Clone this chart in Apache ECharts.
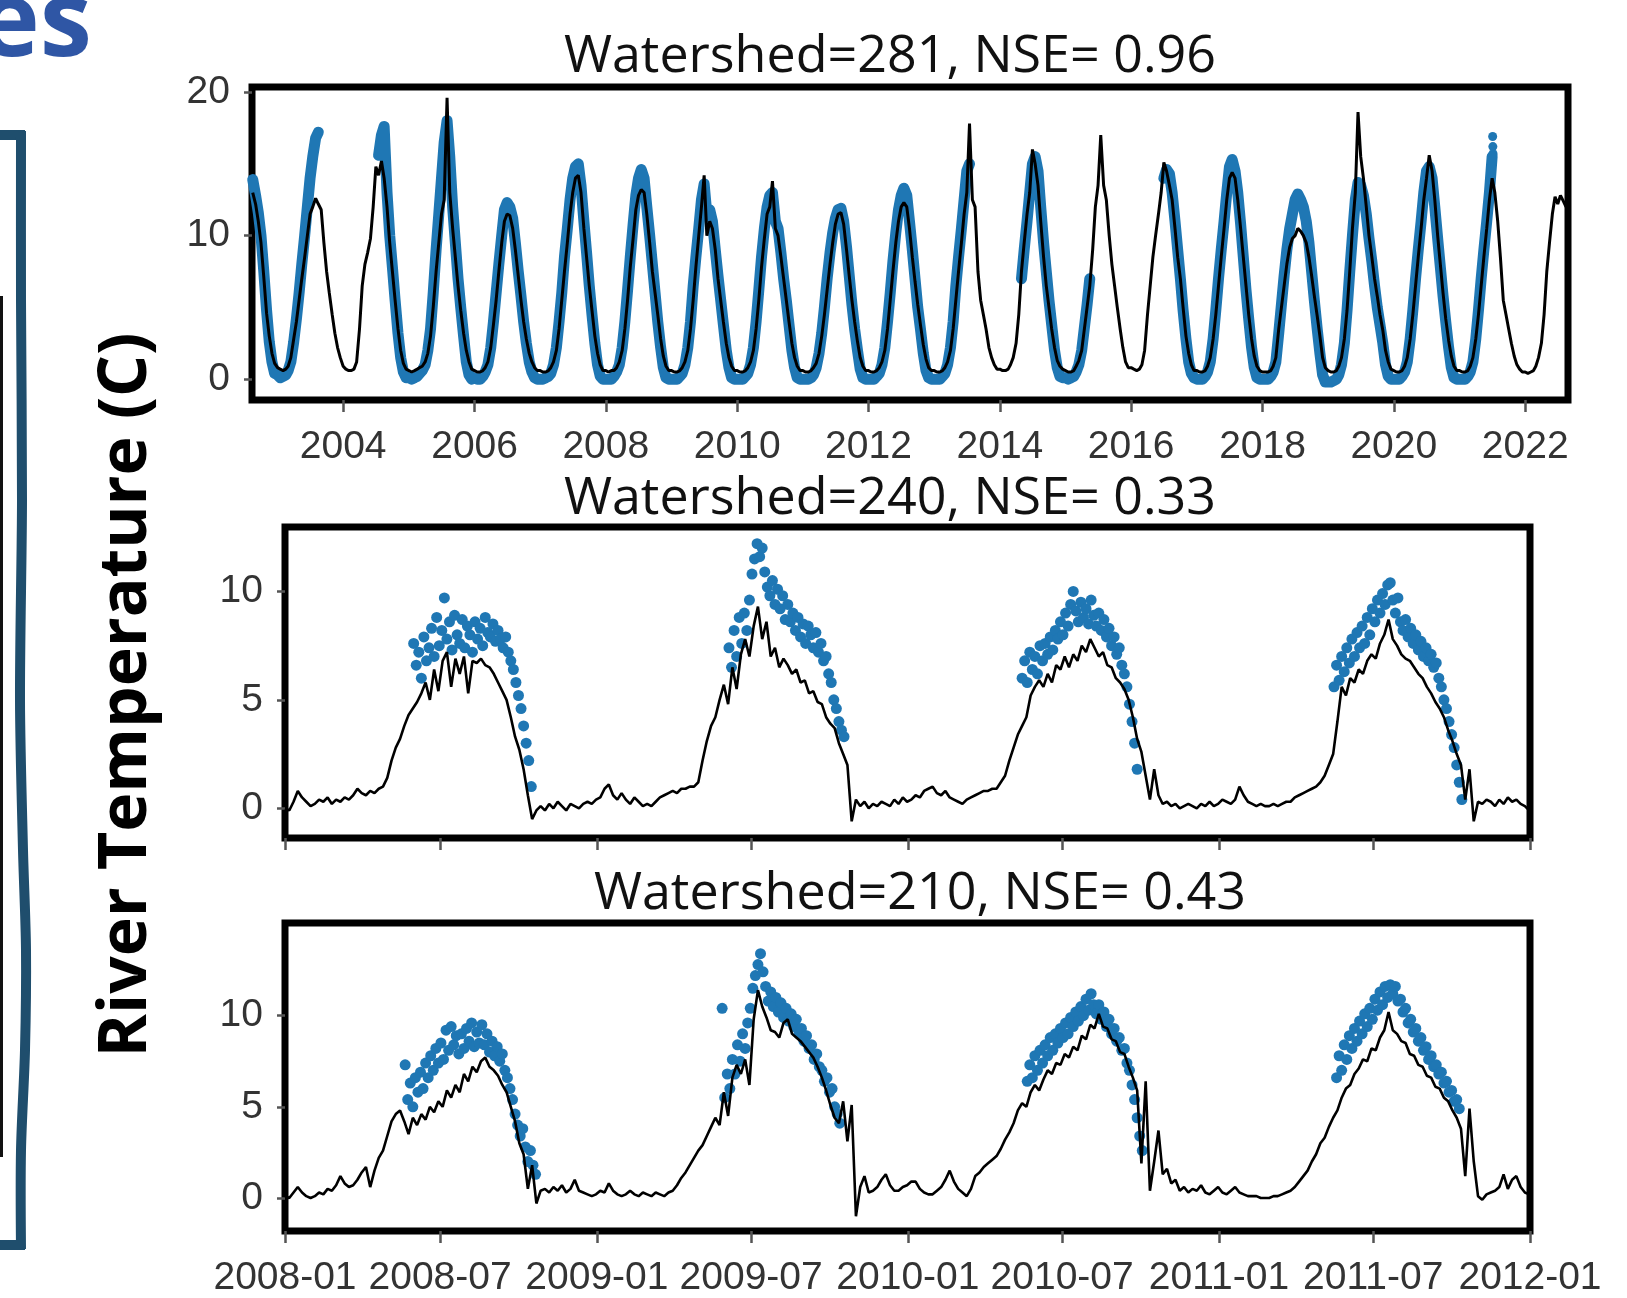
<!DOCTYPE html>
<html>
<head>
<meta charset="utf-8">
<title>River Temperature</title>
<script src="https://cdn.jsdelivr.net/npm/echarts@6/dist/echarts.min.js"></script>
<style>
    html, body { margin: 0; padding: 0; background: #fff; }
    #river_chart { width: 1627px; height: 1298px; }
</style>
</head>
<body>
<div id="river_chart"></div>
<script>
    // Watershed 281: values on the 1st and 16th of each month, 2002-08-16 .. 2022-08-16
    var sim281 = [
        13.0,12.2,11.0,9.5,7.2,4.6,3.0,1.8,1.1,
        0.8,0.7,0.6,0.7,0.9,1.5,2.8,4.0,5.5,7.0,8.5,10.0,11.5,12.0,12.6,12.2,11.8,9.5,7.5,6.0,4.5,3.2,2.2,1.5,
        0.9,0.7,0.6,0.6,0.7,1.2,3.5,6.5,8.0,8.8,9.8,12.0,14.8,14.2,15.2,14.0,12.0,9.5,7.5,5.5,3.5,2.0,1.1,0.7,
        0.6,0.5,0.6,0.7,0.8,0.9,1.2,1.8,3.0,5.0,7.5,9.5,11.5,12.5,19.6,13.0,10.5,8.5,6.5,4.8,3.2,2.0,1.2,0.7,
        0.6,0.5,0.5,0.6,0.8,1.2,2.2,3.8,5.5,7.5,9.5,11.0,11.5,11.4,10.5,9.0,7.2,5.5,4.0,2.8,1.8,1.2,0.8,0.6,
        0.6,0.5,0.5,0.6,0.8,1.2,2.0,3.5,5.5,7.5,9.5,11.5,13.0,14.0,14.2,13.0,10.5,8.5,6.5,4.8,3.0,1.8,1.0,0.6,
        0.6,0.5,0.6,0.6,0.8,1.2,2.0,3.5,5.5,7.8,9.8,11.8,12.8,13.2,13.0,11.5,9.5,7.5,6.0,4.5,2.8,1.6,0.9,0.6,
        0.6,0.5,0.5,0.6,0.8,1.2,2.0,3.5,5.5,7.8,10.0,12.0,14.2,10.0,11.0,10.5,9.0,7.0,5.5,4.0,2.5,1.5,0.9,0.6,
        0.6,0.5,0.5,0.6,0.8,1.2,2.0,3.5,5.5,7.8,9.8,11.5,12.0,13.8,10.5,10.0,8.5,7.0,5.5,4.0,2.5,1.5,0.9,0.6,
        0.6,0.5,0.5,0.6,0.8,1.1,1.8,3.0,4.5,6.2,8.0,9.5,10.8,11.5,11.6,10.8,9.0,7.2,5.5,4.0,2.6,1.5,0.9,0.6,
        0.6,0.5,0.5,0.6,0.8,1.2,2.0,3.5,5.5,7.5,9.5,11.0,12.0,12.3,12.0,10.5,8.5,6.8,5.2,3.8,2.4,1.4,0.8,0.6,
        0.6,0.5,0.5,0.6,0.8,1.2,2.0,3.5,5.5,7.5,9.5,11.5,13.0,17.8,12.5,12.0,7.5,5.5,4.5,3.5,2.2,1.5,1.0,0.7,
        0.7,0.6,0.6,0.7,1.0,1.5,2.5,4.5,7.5,9.5,11.5,13.0,16.0,15.0,13.5,11.0,8.5,6.5,5.0,3.5,2.2,1.3,0.9,0.7,
        0.6,0.5,0.5,0.6,0.9,1.3,2.0,3.5,5.0,6.5,9.0,12.0,13.5,17.0,13.5,12.5,10.0,8.0,6.5,5.0,3.5,2.2,1.2,0.8,
        0.8,0.7,0.6,0.7,1.0,2.0,4.5,6.5,8.5,10.0,11.5,13.0,15.1,14.5,13.5,12.5,10.5,8.5,7.0,5.0,3.0,1.8,1.0,0.6,
        0.6,0.5,0.5,0.6,0.9,1.5,2.8,4.5,6.5,8.5,10.5,12.5,14.0,14.4,14.0,12.5,10.5,8.5,6.5,4.5,2.8,1.6,0.9,0.6,
        0.5,0.5,0.5,0.6,0.9,1.5,3.5,5.0,6.5,8.0,9.2,9.8,10.0,10.5,10.3,10.0,9.5,8.5,7.2,5.8,4.4,3.0,1.5,0.8,
        0.6,0.5,0.5,0.6,0.9,1.5,2.8,4.8,7.5,10.5,13.0,18.6,15.5,14.0,12.0,10.0,8.5,7.0,5.8,4.5,3.4,2.0,1.2,0.7,
        0.6,0.5,0.5,0.6,0.9,1.5,2.8,4.5,6.5,8.5,10.5,12.5,14.0,15.6,14.5,12.5,10.0,8.0,6.0,4.2,2.7,1.6,0.9,0.6,
        0.6,0.5,0.5,0.6,0.9,1.5,2.8,4.5,6.5,8.5,10.5,12.5,14.0,13.0,11.0,8.5,5.5,4.5,3.5,2.5,1.6,1.0,0.7,0.5,
        0.5,0.4,0.5,0.6,0.9,1.5,2.5,4.5,7.5,9.5,11.5,12.7,12.2,12.8,12.4,12.0
    ];
    var obs281 = [
        13.9,12.8,11.6,10.0,7.6,4.8,2.6,1.2,0.4,
        0.3,0.1,0.2,0.3,0.6,1.2,2.6,4.2,6.0,8.0,10.0,12.0,14.0,15.5,16.8,17.2,null,null,null,null,null,null,null,null,
        null,null,null,null,null,null,null,null,null,null,null,null,null,15.6,17.0,17.6,13.0,10.0,7.8,5.5,3.2,1.5,0.5,0.1,
        0.1,0.0,0.1,0.2,0.4,0.6,1.0,2.0,3.5,6.0,9.0,11.5,14.0,16.5,18.0,15.5,12.0,9.5,7.0,5.0,3.0,1.2,0.3,0.0,
        0.1,0.0,0.0,0.2,0.5,1.0,2.2,4.0,6.0,8.0,10.0,11.8,12.3,12.0,11.2,9.5,7.5,5.8,4.0,2.5,1.2,0.5,0.1,0.0,
        0.0,0.0,0.1,0.2,0.4,1.0,2.2,4.0,6.0,8.5,10.5,12.5,14.0,14.8,15.0,13.5,11.0,8.8,6.5,4.5,2.5,1.0,0.2,0.0,
        0.0,0.0,0.0,0.2,0.5,1.0,2.2,4.0,6.2,8.5,10.8,12.8,14.0,14.6,14.0,12.0,10.0,8.0,6.0,4.0,2.2,0.8,0.1,0.0,
        0.0,0.0,0.0,0.2,0.4,1.0,2.2,4.0,6.5,8.5,10.5,12.5,13.6,11.5,11.8,11.0,9.0,7.2,5.5,3.8,2.0,0.8,0.1,0.0,
        0.0,0.0,0.0,0.2,0.4,1.0,2.2,4.0,6.2,8.5,10.5,12.0,12.8,13.0,11.0,10.5,8.8,7.0,5.5,3.8,2.0,0.8,0.1,0.0,
        0.0,0.0,0.0,0.1,0.3,0.8,1.8,3.2,5.0,7.0,8.8,10.2,11.2,11.8,11.9,11.0,9.2,7.2,5.2,3.5,2.0,0.7,0.1,0.0,
        0.0,0.0,0.0,0.2,0.4,1.0,2.2,4.0,6.0,8.2,10.2,11.8,12.8,13.3,12.8,11.0,9.0,7.0,5.0,3.5,1.8,0.6,0.1,0.0,
        0.0,0.0,0.0,0.2,0.4,1.0,2.2,4.0,6.5,8.5,10.5,12.5,14.5,15.0,null,null,null,null,null,null,null,null,null,null,
        null,null,null,null,null,null,null,null,7.0,9.0,11.0,13.0,15.0,15.5,14.5,12.0,9.5,7.5,5.5,3.8,2.0,0.8,0.2,0.1,
        0.1,0.0,0.1,0.2,0.5,1.0,2.0,3.6,5.2,7.0,null,null,null,null,null,null,null,null,null,null,null,null,null,null,
        null,null,null,null,null,null,null,null,null,null,null,null,14.0,14.6,14.3,13.0,11.0,9.0,7.0,4.8,2.8,1.2,0.4,0.1,
        0.0,0.0,0.0,0.2,0.5,1.2,2.8,4.8,7.0,9.0,11.0,13.0,14.8,15.3,14.5,13.0,10.8,8.5,6.2,4.2,2.2,0.8,0.1,0.0,
        0.0,0.0,0.0,0.2,0.5,1.2,3.2,5.2,7.2,9.0,10.5,11.5,12.5,12.9,12.5,12.0,11.0,9.5,7.5,5.5,3.5,1.8,0.3,-0.2,
        -0.2,-0.2,-0.1,0.0,0.3,1.0,2.5,4.8,7.5,10.0,12.5,13.7,13.5,12.8,11.5,9.8,8.2,6.5,5.0,3.8,2.5,1.0,0.2,0.0,
        0.0,0.0,0.0,0.2,0.5,1.2,2.8,4.8,7.0,9.0,11.0,13.0,14.5,14.8,14.0,12.0,9.8,7.8,5.8,4.0,2.2,0.8,0.1,0.0,
        0.0,0.0,0.0,0.2,0.5,1.2,2.8,4.8,7.0,9.0,11.0,13.0,15.5,null,null,null,null,null,null,null,null,null,null,null,
        null,null,null,null,null,null,null,null,null,null,null,null,null,null,null,null
    ];
    var obs281PeakDays = ['2021-07-04', '2021-07-05', '2021-07-06'];
    var obs281PeakValues = [16.9, 16.2, 15.7];
    var yearTicks = [2004, 2006, 2008, 2010, 2012, 2014, 2016, 2018, 2020, 2022];

    // Watersheds 240 and 210: model every 5 days from 2008-01-01
    var sim240 = [
        0.0,-0.1,0.3,0.8,0.5,0.3,0.1,0.2,0.4,0.3,
        0.5,0.2,0.4,0.3,0.5,0.4,0.6,0.9,0.7,0.6,
        0.8,0.7,0.9,1.0,1.4,2.2,2.8,3.2,3.8,4.3,
        4.6,4.9,5.3,5.8,5.0,6.4,5.4,6.8,7.2,5.6,
        6.9,6.2,7.0,5.3,6.8,6.7,6.9,6.6,6.5,6.2,
        5.8,5.4,5.0,4.2,3.3,2.7,1.8,0.6,-0.5,-0.1,
        0.1,-0.1,0.2,0.0,0.3,0.1,-0.1,0.2,0.1,0.0,
        0.2,0.3,0.2,0.4,0.5,0.9,1.1,0.6,0.4,0.7,
        0.4,0.2,0.5,0.3,0.1,0.2,0.1,0.3,0.5,0.6,
        0.7,0.8,0.7,0.9,0.9,1.0,1.0,1.2,2.2,3.1,
        3.8,4.2,5.0,5.7,4.8,6.5,5.5,7.1,7.8,7.0,
        8.4,9.3,7.8,8.6,7.0,7.4,6.5,6.9,6.6,6.2,
        6.4,5.8,5.9,5.3,5.4,4.9,4.8,4.2,3.9,3.7,
        3.0,2.5,2.0,-0.6,0.4,0.1,0.3,0.0,0.2,0.1,
        0.3,0.2,0.1,0.4,0.2,0.5,0.3,0.4,0.6,0.5,
        0.8,0.9,1.0,0.7,0.6,0.8,0.5,0.4,0.3,0.2,
        0.4,0.5,0.6,0.7,0.8,0.8,0.9,0.9,1.2,1.5,
        2.2,2.8,3.4,3.8,4.2,5.2,5.6,5.9,5.6,6.2,
        5.8,6.6,6.4,7.0,6.5,7.1,6.8,7.5,7.2,7.8,
        7.4,7.0,7.2,6.6,6.5,6.0,5.8,5.5,5.0,4.2,
        3.2,2.6,1.5,0.4,1.8,0.6,0.2,0.3,0.1,0.2,
        0.0,0.1,0.2,0.1,0.0,0.2,0.1,0.3,0.1,0.2,
        0.4,0.3,0.2,0.4,1.0,0.6,0.3,0.2,0.1,0.2,
        0.1,0.1,0.2,0.1,0.2,0.3,0.3,0.5,0.6,0.7,
        0.8,0.9,1.0,1.2,1.5,2.0,2.5,4.0,5.6,5.2,
        6.0,5.8,6.4,6.2,6.8,7.1,6.9,7.6,8.0,8.7,
        7.8,7.5,7.1,6.9,6.8,6.5,6.2,6.0,5.6,5.3,
        4.9,4.6,4.2,3.6,3.1,2.5,2.0,0.4,1.8,-0.6,
        0.3,0.2,0.4,0.3,0.1,0.4,0.2,0.5,0.3,0.4,
        0.2,0.1,-0.1
    ];
    // observations every 3 days, first day of each summer counted from 2008-01-01
    var obs240Start = [151, 521, 865, 1231];
    var obs240 = [
        [7.6,6.6,7.2,6.0,7.9,6.8,7.4,8.3,7.0,8.8,7.5,8.2,9.7,7.8,8.6,7.3,8.9,8.0,7.6,8.7,7.4,8.4,8.0,7.2,8.6,7.8,8.3,7.5,8.8,8.1,7.9,8.5,7.7,8.2,7.8,7.4,7.9,7.2,6.8,6.4,5.8,5.2,4.6,3.8,3.0,2.2,1.0],
        [7.4,6.5,8.2,7.0,8.8,7.6,9.0,8.2,9.6,10.8,11.5,12.2,11.6,12.0,10.9,10.2,9.8,10.5,9.4,10.1,9.2,9.8,8.7,9.4,8.6,9.0,8.2,8.8,7.9,8.5,7.6,8.4,8.0,7.4,8.1,7.2,7.6,6.8,7.0,6.2,5.8,5.0,4.6,4.0,3.6,3.3],
        [6.0,6.8,5.8,7.2,6.4,7.0,6.2,7.5,6.8,7.6,7.1,7.9,7.3,8.2,7.8,8.6,8.0,9.0,8.4,9.4,10.0,9.1,8.6,9.5,8.8,9.2,8.5,9.6,8.9,8.4,9.0,8.2,8.7,7.9,8.3,7.5,7.9,7.1,7.4,6.6,6.2,5.6,4.8,4.0,3.0,1.8],
        [5.6,6.6,5.9,7.0,6.3,7.4,6.7,7.8,7.0,8.1,7.4,8.4,7.6,8.8,8.0,9.2,8.6,9.6,9.0,9.9,9.4,10.3,10.4,9.6,9.0,9.7,8.6,8.2,8.7,7.9,8.3,7.6,8.0,7.3,7.7,7.0,7.4,6.8,7.1,6.5,6.7,6.0,5.6,5.0,4.6,4.0,3.4,2.8,2.0,1.2,0.4]
    ];
    var sim210 = [
        0.1,0.0,0.3,0.6,0.3,0.1,0.0,0.1,0.3,0.2,
        0.5,0.4,0.7,1.2,0.8,0.6,0.7,1.0,1.4,1.7,
        0.6,1.5,2.2,2.6,3.4,4.2,4.6,4.8,4.2,3.5,
        4.4,4.0,4.6,4.3,5.0,4.7,5.3,5.0,5.9,5.5,
        6.2,5.8,6.8,6.4,7.2,6.9,7.5,7.7,7.2,7.0,
        6.7,6.2,5.8,5.0,4.2,3.0,2.4,0.5,1.8,-0.3,
        0.4,0.5,0.3,0.6,0.4,0.7,0.3,0.5,1.0,0.4,
        0.3,0.2,0.1,0.2,0.4,0.3,0.8,0.4,0.2,0.1,
        0.2,0.4,0.2,0.1,0.3,0.2,0.1,0.3,0.2,0.1,
        0.3,0.4,0.7,1.1,1.4,1.8,2.2,2.6,2.9,3.4,
        3.9,4.4,4.0,5.8,4.5,6.6,7.3,6.8,7.6,6.2,
        9.8,11.4,10.5,9.9,9.2,9.1,8.8,9.6,9.8,9.0,
        8.8,8.6,8.3,8.0,7.7,7.2,6.6,5.9,5.1,4.4,
        4.1,5.3,3.1,5.1,-1.0,0.6,1.2,0.3,0.4,0.6,
        1.0,1.3,0.7,0.4,0.4,0.6,0.7,0.9,0.9,0.5,
        0.3,0.2,0.2,0.4,0.6,1.0,1.5,0.9,0.5,0.3,
        0.1,0.5,1.2,1.4,1.7,1.9,2.1,2.3,2.7,3.2,
        3.6,4.1,4.8,5.2,5.0,5.8,6.2,5.9,6.5,7.0,
        6.8,7.4,7.3,7.9,7.7,8.3,8.1,8.9,8.7,9.5,
        9.3,10.1,9.4,9.3,8.7,8.6,8.0,7.9,7.2,6.6,
        5.9,1.9,6.4,0.4,2.0,3.7,1.3,1.6,0.8,1.0,
        0.4,0.6,0.3,0.5,0.4,0.7,0.3,0.2,0.4,0.6,
        0.3,0.2,0.4,0.6,0.3,0.2,0.1,0.1,0.1,0.0,
        0.0,0.0,0.1,0.1,0.2,0.3,0.4,0.6,0.9,1.2,
        1.5,2.0,2.4,3.0,3.3,3.9,4.4,4.8,5.5,6.0,
        6.2,6.8,7.1,7.6,7.5,8.2,8.1,8.8,9.2,10.2,
        9.2,9.0,8.6,8.5,7.9,7.8,7.3,7.2,6.7,6.6,
        6.1,6.0,5.5,5.3,4.8,4.4,3.8,1.2,4.9,2.0,
        0.1,-0.1,0.2,0.3,0.4,0.6,1.3,0.5,1.0,1.2,
        0.6,0.3,0.2
    ];
    var obs210Start = [141, 513, 871, 1234];
    var obs210 = [
        [7.3,5.4,6.3,5.0,6.6,5.8,6.9,6.0,7.4,6.6,7.8,7.0,8.2,7.4,8.5,7.6,9.2,8.1,9.4,8.4,8.9,7.9,9.0,8.2,9.3,8.6,9.6,8.3,9.1,8.5,9.5,8.4,9.0,8.0,8.6,7.8,8.3,7.5,7.9,7.0,6.6,6.0,5.4,4.6,4.0,3.4,3.8,2.8,2.0,2.6,1.8,1.3],
        [10.4,5.5,6.8,6.0,7.6,6.8,8.4,7.5,9.0,8.2,9.6,10.4,11.5,12.2,12.8,13.4,12.4,11.6,10.8,11.3,10.5,11.0,10.2,10.7,9.9,10.4,9.7,10.1,9.4,9.8,9.0,9.3,8.6,8.9,8.2,8.4,7.6,7.9,7.2,7.0,6.4,6.6,5.8,6.0,5.0,4.6,4.1],
        [6.4,7.3,6.6,7.8,7.0,8.1,7.4,8.4,7.8,8.8,8.1,9.0,8.5,9.3,8.8,9.6,9.0,9.9,9.4,10.2,9.7,10.5,10.0,10.9,10.3,11.2,10.6,10.1,10.6,9.8,10.2,9.4,9.8,9.0,9.3,8.6,8.8,8.1,8.2,7.4,7.0,6.2,5.4,4.4,3.4,2.6],
        [6.6,7.8,7.0,8.4,7.6,8.9,8.2,9.3,8.6,9.7,9.0,10.1,9.4,10.4,9.8,10.9,10.3,11.3,10.6,11.6,11.0,11.7,11.2,11.6,10.8,10.9,10.2,10.4,9.6,9.8,9.1,9.3,8.6,8.8,8.1,8.3,7.6,7.8,7.2,7.3,6.8,6.9,6.3,6.4,5.8,5.9,5.3,5.4,4.9]
    ];
    var monthTicks = ['2008-01', '2008-07', '2009-01', '2009-07', '2010-01', '2010-07', '2011-01', '2011-07', '2012-01'];
    var titles = ['Watershed=281, NSE= 0.96', 'Watershed=240, NSE= 0.33', 'Watershed=210, NSE= 0.43'];

    var DAY = 86400000;
    var START_2008 = Date.UTC(2008, 0, 1);
    var OBS_COLOR = '#1f77b4';
    var TEAL = '#1f4e6d';

    // 1st and 16th of every month between the first and last sample
    function halfMonthDates() {
        var dates = [];
        var first = Date.UTC(2002, 7, 16);
        var last = Date.UTC(2022, 7, 16);
        for (var y = 2002; y <= 2022; y++) {
            for (var m = 0; m < 12; m++) {
                [1, 16].forEach(function (d) {
                    var t = Date.UTC(y, m, d);
                    if (t >= first && t <= last) {
                        dates.push(t);
                    }
                });
            }
        }
        return dates;
    }
    function withDates(dates, values) {
        return values.map(function (v, i) {
            return [dates[i], v === null ? '-' : v];
        });
    }
    function everyFiveDays(values) {
        return values.map(function (v, i) {
            return [START_2008 + 5 * i * DAY, v];
        });
    }
    function summerPoints(starts, seasons) {
        var pts = [];
        seasons.forEach(function (vals, s) {
            vals.forEach(function (v, i) {
                pts.push([START_2008 + (starts[s] + 3 * i) * DAY, v]);
            });
        });
        return pts;
    }
    function parseDay(str) {
        var p = str.split('-');
        return Date.UTC(+p[0], +p[1] - 1, p[2] ? +p[2] : 1);
    }
    function pad(x) {
        // 月份小于10时补0
        return x < 10 ? '0' + x : '' + x;
    }

    var tickText = {
        color: '#333',
        fontSize: 39,
        fontFamily: '"Liberation Sans", Arial, sans-serif'
    };
    var tickLine = { color: '#555', width: 2.5 };

    function xAxisOf(gridIndex, min, max, ticks, formatter) {
        var label = { show: false };
        if (formatter) {
            label = {
                show: true, customValues: ticks, formatter: formatter, margin: 28,
                color: tickText.color, fontSize: tickText.fontSize, fontFamily: tickText.fontFamily
            };
        }
        return {
            type: 'value', gridIndex: gridIndex, min: min, max: max, position: 'bottom',
            axisLine: { show: false, onZero: false },
            splitLine: { show: false },
            axisTick: { show: true, length: 12, customValues: ticks, lineStyle: tickLine },
            axisLabel: label
        };
    }
    function yAxisOf(gridIndex, min, max, ticks) {
        return {
            type: 'value', gridIndex: gridIndex, min: min, max: max, position: 'left',
            axisLine: { show: false, onZero: false },
            splitLine: { show: false },
            axisTick: { show: true, length: 8, customValues: ticks, lineStyle: tickLine },
            axisLabel: {
                show: true, customValues: ticks, margin: 22,
                color: tickText.color, fontSize: tickText.fontSize, fontFamily: tickText.fontFamily
            }
        };
    }
    function gridOf(left, top, width, height) {
        return {
            left: left, top: top, width: width, height: height,
            show: true, borderColor: '#000', borderWidth: 7, backgroundColor: 'transparent'
        };
    }
    function titleOf(text, x, y) {
        return {
            type: 'text', x: x, y: y, silent: true,
            style: {
                text: text, fill: '#111', fontSize: 52, fontFamily: '"Open Sans", sans-serif',
                align: 'center', verticalAlign: 'middle'
            }
        };
    }

    var dates281 = halfMonthDates();
    var yearValues = yearTicks.map(function (y) { return Date.UTC(y, 0, 1); });
    var monthValues = monthTicks.map(parseDay);
    var peak281 = obs281PeakDays.map(function (d, i) { return [parseDay(d), obs281PeakValues[i]]; });

    var river_chart = echarts.init(document.getElementById('river_chart'));
    var option = {
        animation: false,
        backgroundColor: '#fff',
        grid: [
            gridOf(252, 87, 1316, 313),
            gridOf(285, 527, 1245, 311),
            gridOf(285, 923, 1245, 312)
        ],
        xAxis: [
            xAxisOf(0, Date.UTC(2002, 7, 12), Date.UTC(2022, 7, 27), yearValues, function (v) {
                return '' + new Date(v).getUTCFullYear();
            }),
            xAxisOf(1, START_2008, Date.UTC(2012, 0, 1), monthValues, null),
            xAxisOf(2, START_2008, Date.UTC(2012, 0, 1), monthValues, function (v) {
                var d = new Date(v);
                return d.getUTCFullYear() + '-' + pad(d.getUTCMonth() + 1);
            })
        ],
        yAxis: [
            yAxisOf(0, -1.45, 20.35, [0, 10, 20]),
            yAxisOf(1, -1.37, 12.97, [0, 5, 10]),
            yAxisOf(2, -1.81, 15.08, [0, 5, 10])
        ],
        series: [
            {
                type: 'line', xAxisIndex: 0, yAxisIndex: 0, silent: true,
                data: withDates(dates281, obs281), showSymbol: false,
                lineStyle: { color: OBS_COLOR, width: 11, cap: 'round', join: 'round' }
            },
            {
                type: 'scatter', xAxisIndex: 0, yAxisIndex: 0, silent: true,
                data: peak281, symbolSize: 9, itemStyle: { color: OBS_COLOR, opacity: 1 }
            },
            {
                type: 'line', xAxisIndex: 0, yAxisIndex: 0, silent: true,
                data: withDates(dates281, sim281), showSymbol: false,
                lineStyle: { color: '#000', width: 3 }
            },
            {
                type: 'scatter', xAxisIndex: 1, yAxisIndex: 1, silent: true,
                data: summerPoints(obs240Start, obs240), symbolSize: 11, itemStyle: { color: OBS_COLOR, opacity: 1 }
            },
            {
                type: 'line', xAxisIndex: 1, yAxisIndex: 1, silent: true,
                data: everyFiveDays(sim240), showSymbol: false,
                lineStyle: { color: '#000', width: 2.6 }
            },
            {
                type: 'scatter', xAxisIndex: 2, yAxisIndex: 2, silent: true,
                data: summerPoints(obs210Start, obs210), symbolSize: 11, itemStyle: { color: OBS_COLOR, opacity: 1 }
            },
            {
                type: 'line', xAxisIndex: 2, yAxisIndex: 2, silent: true,
                data: everyFiveDays(sim210), showSymbol: false,
                lineStyle: { color: '#000', width: 2.6 }
            }
        ],
        graphic: [
            // slide leftovers: end of the heading, the bracket and a thin rule
            {
                type: 'text', x: 92, y: 26, silent: true,
                style: {
                    text: 'es', fill: '#2f56a5', fontSize: 105, fontWeight: 'bold',
                    fontFamily: '"Open Sans", sans-serif', align: 'right', verticalAlign: 'middle'
                }
            },
            { type: 'line', silent: true, shape: { x1: 0, y1: 135, x2: 25, y2: 135 }, style: { stroke: TEAL, lineWidth: 10 } },
            {
                type: 'polyline', silent: true,
                shape: { points: [[21, 131], [21, 300], [22, 500], [20, 700], [23, 850], [26, 950], [25, 1050], [21, 1150], [21, 1249]], smooth: 0.3 },
                style: { stroke: TEAL, lineWidth: 10, fill: null }
            },
            { type: 'line', silent: true, shape: { x1: 0, y1: 1245, x2: 25, y2: 1245 }, style: { stroke: TEAL, lineWidth: 10 } },
            { type: 'line', silent: true, shape: { x1: 1.5, y1: 296, x2: 1.5, y2: 1157 }, style: { stroke: '#111', lineWidth: 3 } },
            {
                type: 'text', x: 127, y: 695, rotation: Math.PI / 2, silent: true,
                style: {
                    text: 'River Temperature (C)', fill: '#000', fontSize: 66, fontWeight: 'bold',
                    fontFamily: '"Open Sans", sans-serif', align: 'center', verticalAlign: 'middle'
                }
            },
            titleOf(titles[0], 890, 57),
            titleOf(titles[1], 890, 499),
            titleOf(titles[2], 920, 894)
        ]
    };
    river_chart.setOption(option);
</script>
</body>
</html>
